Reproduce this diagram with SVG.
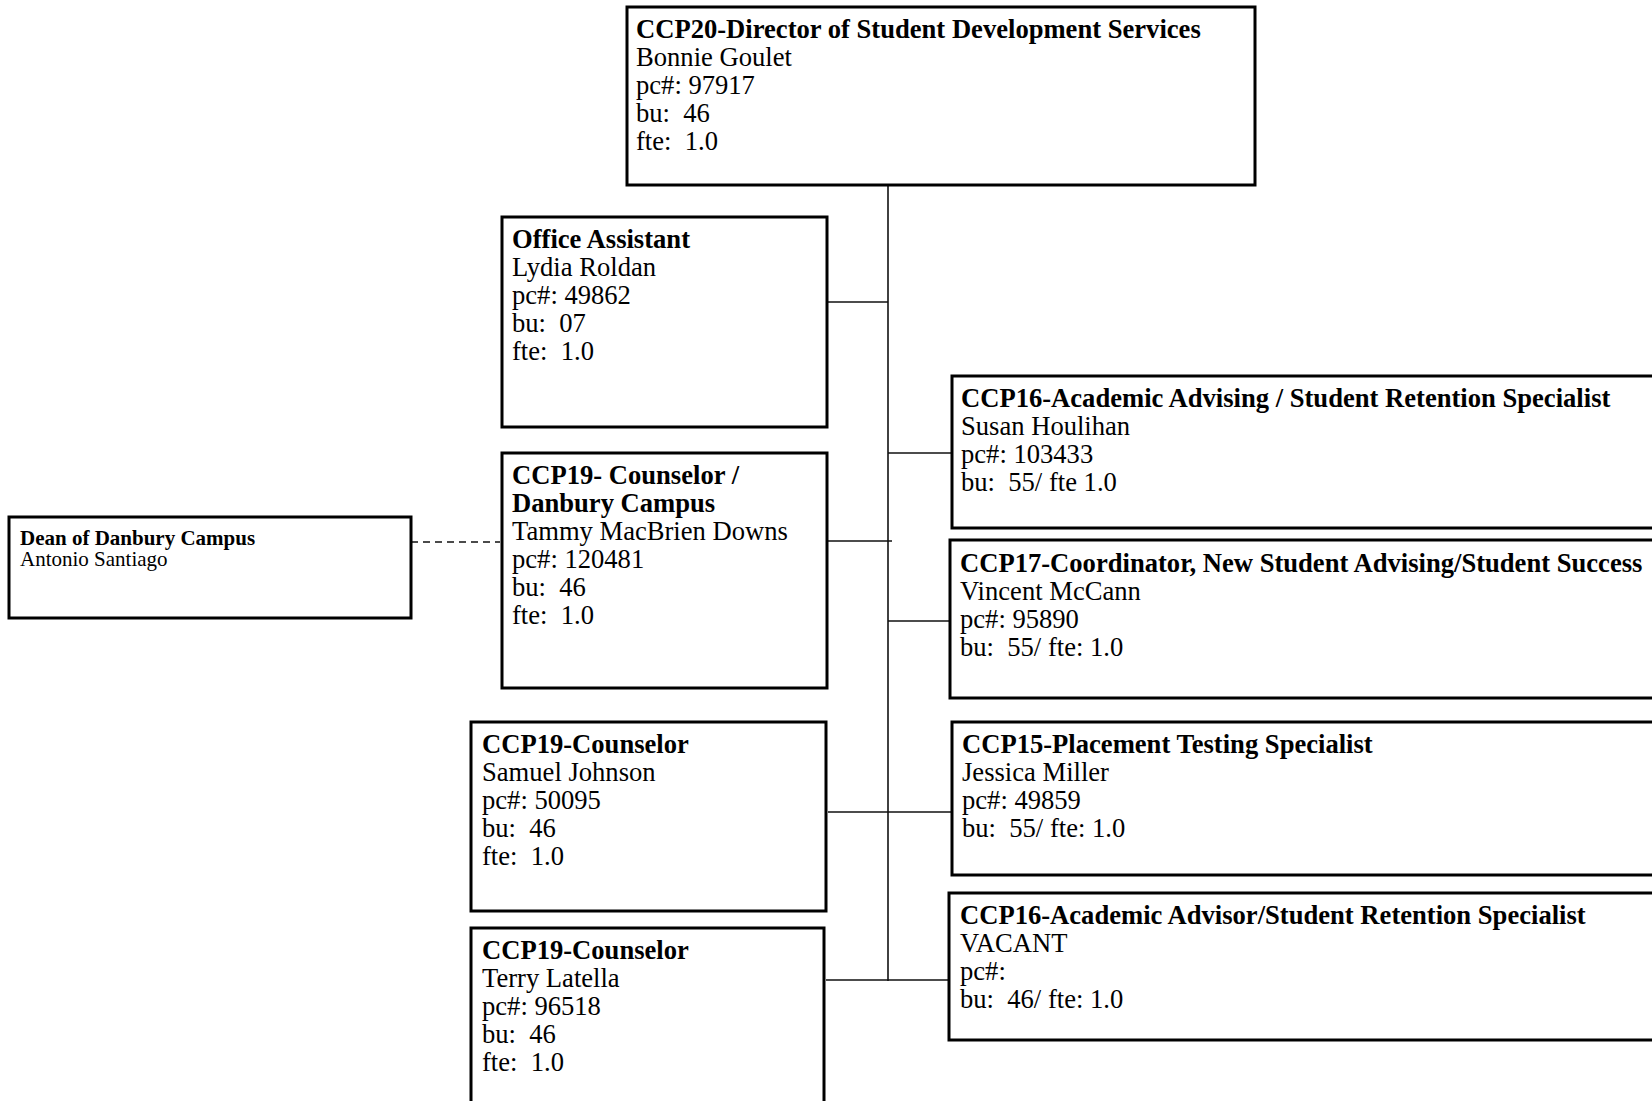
<svg xmlns="http://www.w3.org/2000/svg" width="1652" height="1101" viewBox="0 0 1652 1101">
<style>
.box{fill:#fff;stroke:#000;stroke-width:3}
.t{font-family:"Liberation Serif","Times New Roman",serif;font-size:26.6px;fill:#000;white-space:pre}
.b{font-weight:bold}
.s{font-family:"Liberation Serif","Times New Roman",serif;font-size:21px;fill:#000;white-space:pre}
.c{stroke:#111;stroke-width:1.6;fill:none}
.d{stroke:#111;stroke-width:1.6;fill:none;stroke-dasharray:7 5}
</style>
<rect width="1652" height="1101" fill="#fff"/>
<g id="connectors">
<line class="c" x1="888" y1="186" x2="888" y2="981"/>
<line class="c" x1="828" y1="302" x2="888" y2="302"/>
<line class="c" x1="888" y1="453" x2="952" y2="453"/>
<line class="c" x1="828" y1="541" x2="892" y2="541"/>
<line class="c" x1="888" y1="621" x2="950" y2="621"/>
<line class="c" x1="828" y1="812" x2="952" y2="812"/>
<line class="c" x1="826" y1="980" x2="949" y2="980"/>
<line class="d" x1="411" y1="542" x2="500" y2="542"/>
</g>
<g id="n-director">
<rect class="box" x="627" y="7" width="628" height="178"/>
<text class="t" x="636" y="38"><tspan class="b">CCP20-Director of Student Development Services</tspan><tspan x="636" dy="28">Bonnie Goulet</tspan><tspan x="636" dy="28">pc#: 97917</tspan><tspan x="636" dy="28">bu:  46</tspan><tspan x="636" dy="28">fte:  1.0</tspan></text>
</g>
<g id="n-office">
<rect class="box" x="502" y="217" width="325" height="210"/>
<text class="t" x="512" y="248"><tspan class="b">Office Assistant</tspan><tspan x="512" dy="28">Lydia Roldan</tspan><tspan x="512" dy="28">pc#: 49862</tspan><tspan x="512" dy="28">bu:  07</tspan><tspan x="512" dy="28">fte:  1.0</tspan></text>
</g>
<g id="n-danbury">
<rect class="box" x="502" y="453" width="325" height="235"/>
<text class="t" x="512" y="484"><tspan class="b">CCP19- Counselor /</tspan><tspan x="512" dy="28" class="b">Danbury Campus</tspan><tspan x="512" dy="28">Tammy MacBrien Downs</tspan><tspan x="512" dy="28">pc#: 120481</tspan><tspan x="512" dy="28">bu:  46</tspan><tspan x="512" dy="28">fte:  1.0</tspan></text>
</g>
<g id="n-dean">
<rect class="box" x="9" y="517" width="402" height="101"/>
<text class="s" x="20" y="545"><tspan class="b">Dean of Danbury Campus</tspan><tspan x="20" dy="21">Antonio Santiago</tspan></text>
</g>
<g id="n-samuel">
<rect class="box" x="471" y="722" width="355" height="189"/>
<text class="t" x="482" y="753"><tspan class="b">CCP19-Counselor</tspan><tspan x="482" dy="28">Samuel Johnson</tspan><tspan x="482" dy="28">pc#: 50095</tspan><tspan x="482" dy="28">bu:  46</tspan><tspan x="482" dy="28">fte:  1.0</tspan></text>
</g>
<g id="n-terry">
<rect class="box" x="471" y="928" width="353" height="190"/>
<text class="t" x="482" y="959"><tspan class="b">CCP19-Counselor</tspan><tspan x="482" dy="28">Terry Latella</tspan><tspan x="482" dy="28">pc#: 96518</tspan><tspan x="482" dy="28">bu:  46</tspan><tspan x="482" dy="28">fte:  1.0</tspan></text>
</g>
<g id="n-susan">
<rect class="box" x="952" y="376" width="760" height="152"/>
<text class="t" x="961" y="407"><tspan class="b">CCP16-Academic Advising / Student Retention Specialist</tspan><tspan x="961" dy="28">Susan Houlihan</tspan><tspan x="961" dy="28">pc#: 103433</tspan><tspan x="961" dy="28">bu:  55/ fte 1.0</tspan></text>
</g>
<g id="n-vincent">
<rect class="box" x="950" y="540" width="760" height="158"/>
<text class="t" x="960" y="572"><tspan class="b">CCP17-Coordinator, New Student Advising/Student Success</tspan><tspan x="960" dy="28">Vincent McCann</tspan><tspan x="960" dy="28">pc#: 95890</tspan><tspan x="960" dy="28">bu:  55/ fte: 1.0</tspan></text>
</g>
<g id="n-jessica">
<rect class="box" x="952" y="722" width="760" height="153"/>
<text class="t" x="962" y="753"><tspan class="b">CCP15-Placement Testing Specialist</tspan><tspan x="962" dy="28">Jessica Miller</tspan><tspan x="962" dy="28">pc#: 49859</tspan><tspan x="962" dy="28">bu:  55/ fte: 1.0</tspan></text>
</g>
<g id="n-vacant">
<rect class="box" x="949" y="893" width="760" height="147"/>
<text class="t" x="960" y="924"><tspan class="b">CCP16-Academic Advisor/Student Retention Specialist</tspan><tspan x="960" dy="28">VACANT</tspan><tspan x="960" dy="28">pc#:</tspan><tspan x="960" dy="28">bu:  46/ fte: 1.0</tspan></text>
</g>
</svg>
